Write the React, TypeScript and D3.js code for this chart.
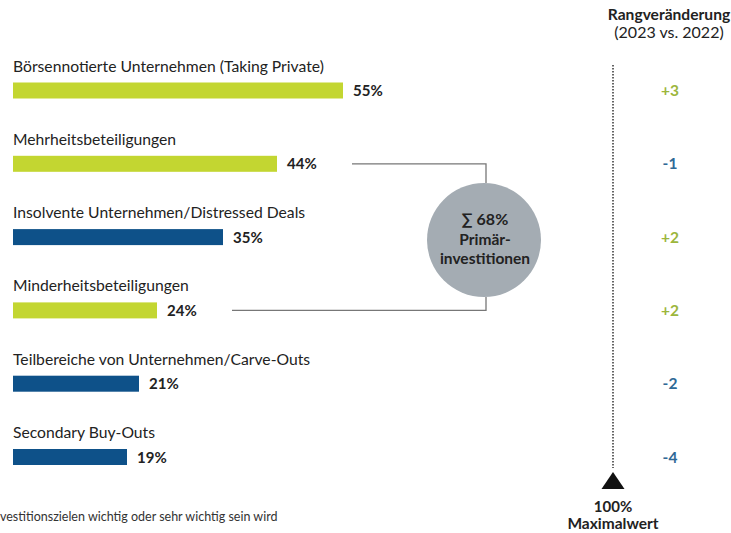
import React from "react";
import * as d3 from "d3";

const categories = [
  "Börsennotierte Unternehmen (Taking Private)",
  "Mehrheitsbeteiligungen",
  "Insolvente Unternehmen/Distressed Deals",
  "Minderheitsbeteiligungen",
  "Teilbereiche von Unternehmen/Carve-Outs",
  "Secondary Buy-Outs",
];
const values = [55, 44, 35, 24, 21, 19];
const primary = [true, true, false, true, false, false];
const rankChanges = ["+3", "-1", "+2", "+2", "-2", "-4"];
const sumLabel = ["∑ 68%", "Primär-", "investitionen"];
const footnote = "vestitionszielen wichtig oder sehr wichtig sein wird";

const W = 731;
const H = 533;
const GREEN = "#c3d631";
const BLUE = "#0e5189";
const GREEN_TXT = "#9cb63c";
const BLUE_TXT = "#2f6996";
const FONT = "Lato, 'Open Sans', sans-serif";

export default function App() {
  const x = d3.scaleLinear().domain([0, 100]).range([13, 613]);
  const y = d3.scalePoint<string>().domain(categories).range([90.5, 457]);
  const barH = 16;
  const cx = 484;
  const cy = 240;
  const r = 57;
  const yTop = y(categories[1])!;
  const yBot = y(categories[3])!;
  return (
    <svg width={W} height={H} style={{ position: "absolute", left: 0, top: 0, background: "#fff" }} fontFamily={FONT}>
      {categories.map((c, i) => {
        const yc = y(c)!;
        return (
          <g key={c}>
            <text x={13} y={yc - 19} fontSize={15.7} fill="#222">{c}</text>
            <rect x={x(0)} y={yc - barH / 2} width={x(values[i]) - x(0)} height={barH} fill={primary[i] ? GREEN : BLUE} />
            <text x={x(values[i]) + 10} y={yc + 5.5} fontSize={15} fontWeight={700} fill="#222">{values[i]}%</text>
            <text x={670} y={yc + 5.5} fontSize={15.5} fontWeight={700} textAnchor="middle" fill={rankChanges[i].startsWith("+") ? GREEN_TXT : BLUE_TXT}>{rankChanges[i]}</text>
          </g>
        );
      })}
      <path d={`M${x(values[1]) + 75},${yTop} H${cx + 2} V${cy - r}`} fill="none" stroke="#777" strokeWidth={1.3} />
      <path d={`M${x(values[3]) + 75},${yBot} H${cx + 2} V${cy + r}`} fill="none" stroke="#777" strokeWidth={1.3} />
      <circle cx={cx} cy={cy} r={r} fill="#a4acb3" />
      {sumLabel.map((t, i) => (
        <text key={t} x={cx + 1} y={cy - 15 + i * 19.5} fontSize={i === 0 ? 16 : 15.5} fontWeight={700} textAnchor="middle" fill="#222">{t}</text>
      ))}
      <text x={669} y={20} fontSize={15.6} fontWeight={700} textAnchor="middle" fill="#222">Rangveränderung</text>
      <text x={669} y={38} fontSize={16} textAnchor="middle" fill="#222">(2023 vs. 2022)</text>
      <line x1={x(100)} x2={x(100)} y1={65} y2={468} stroke="#333" strokeWidth={1.5} strokeDasharray="1.5,1.5" />
      <path d={`M${x(100)},${472} L${x(100) + 11.5},${489} L${x(100) - 11.5},${489} Z`} fill="#111" />
      <text x={x(100)} y={512} fontSize={15} fontWeight={700} textAnchor="middle" fill="#222">100%</text>
      <text x={x(100)} y={529} fontSize={15.5} fontWeight={700} textAnchor="middle" fill="#222">Maximalwert</text>
      <text x={0} y={521} fontSize={12.5} fill="#333">{footnote}</text>
    </svg>
  );
}
